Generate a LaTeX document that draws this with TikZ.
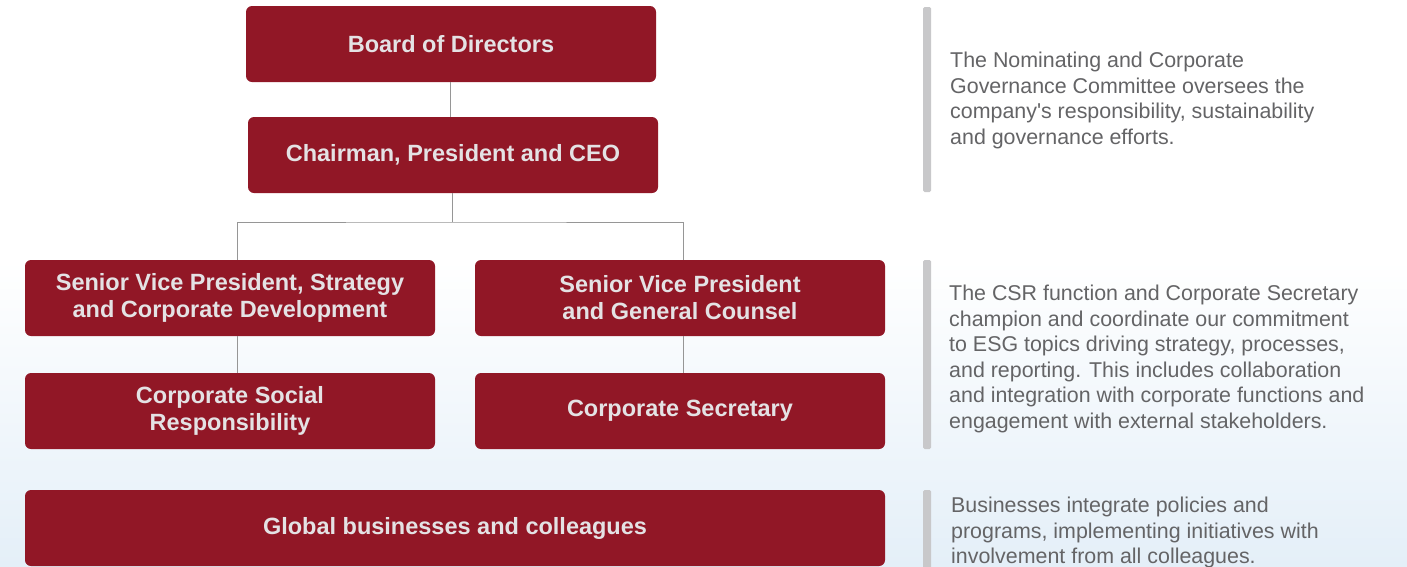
\documentclass[tikz,border=0pt]{standalone}
\usepackage{fontspec}
\setmainfont{Liberation Sans}
\definecolor{boxred}{RGB}{145,23,38}
\definecolor{boxtext}{RGB}{228,226,228}
\definecolor{linegray}{RGB}{150,150,150}
\definecolor{bargray}{RGB}{200,200,202}
\definecolor{notegray}{RGB}{100,100,102}
\definecolor{bgblue}{RGB}{228,239,248}
\begin{document}
\begin{tikzpicture}[x=1pt,y=-1pt,
  box/.style={fill=boxred, rounded corners=6pt, text=boxtext,
    font=\bfseries\fontsize{23.5}{27}\selectfont, align=center, inner sep=0,
    minimum width=410pt, minimum height=76pt},
  conn/.style={draw=linegray, line width=0.9pt},
  bar/.style={fill=bargray, rounded corners=1.5pt},
  note/.style={anchor=north west, inner sep=0, text=notegray,
    font=\fontsize{21.4}{25.5}\selectfont, align=left}]
\useasboundingbox (0,0) rectangle (1407,566);
\fill[white] (0,0) rectangle (1407,566);
\shade[top color=white, bottom color=bgblue] (0,260) rectangle (1407,566);

% boxes
\node[box] (board) at (451,44) {Board of Directors};
\node[box] (ceo) at (453,155) {Chairman, President and CEO};
\node[box] (svps) at (230,298) {Senior Vice President, Strategy\\and Corporate Development};
\node[box] (svpg) at (680,298) {Senior Vice President\\and General Counsel};
\node[box] (csr) at (230,411) {Corporate Social\\Responsibility};
\node[box] (sec) at (680,411) {Corporate Secretary};
\node[box, minimum width=860pt] (glob) at (455,528) {Global businesses and colleagues};

% connectors
\coordinate (split) at (452,222);
\draw[conn] ([xshift=-1pt]board.south) -- ([xshift=-1pt]board.south |- ceo.north);
\draw[conn] (split |- ceo.south) -- (split);
\draw[conn] ([xshift=7pt]svps.north) |- (split) -| ([xshift=3pt]svpg.north);
\draw[conn] ([xshift=7pt]svps.south) -- ([xshift=7pt]csr.north);
\draw[conn] ([xshift=3pt]svpg.south) -- ([xshift=3pt]sec.north);

% side bars
\fill[bar] (923,7) rectangle (931,192);
\fill[bar] (923,260) rectangle (931,449);
\fill[bar] (923,490) rectangle (931,570);

% notes
\node[note] (n1) at (950,52) {The Nominating and Corporate\\Governance Committee oversees the\\company\textquotesingle s responsibility, sustainability\\and governance efforts.};
\node[note] (n2) at (949,285) {The CSR function and Corporate Secretary\\champion and coordinate our commitment\\to ESG topics driving strategy, processes,\\and reporting. This includes collaboration\\and integration with corporate functions and\\engagement with external stakeholders.};
\node[note] (n3) at (951,497) {Businesses integrate policies and\\programs, implementing initiatives with\\involvement from all colleagues.};
\end{tikzpicture}
\end{document}
